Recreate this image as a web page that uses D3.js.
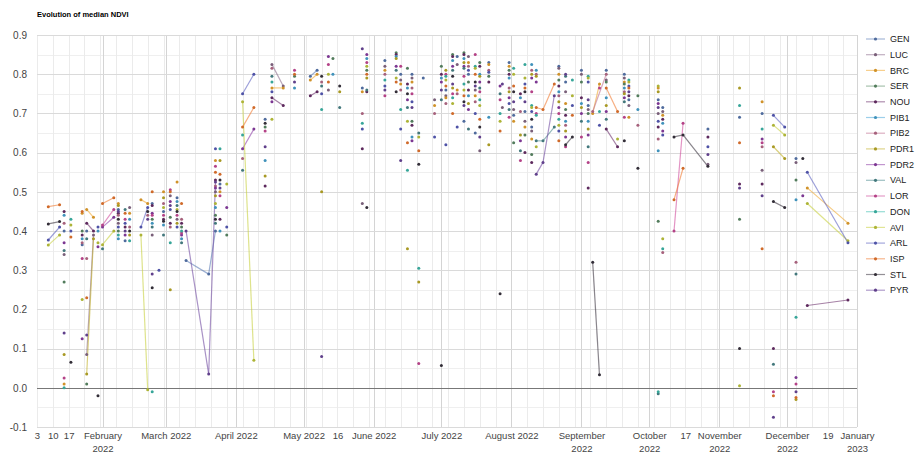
<!DOCTYPE html>
<html><head><meta charset="utf-8">
<script src="https://cdn.jsdelivr.net/npm/d3@7"></script>
<style>body{margin:0;background:#fff;font-family:Arial,"Liberation Sans",sans-serif}</style>
</head><body><svg id="c" width="918" height="455"></svg>
<script>
const seriesNames = ["GEN","LUC","BRC","SER","NOU","PIB1","PIB2","PDR1","PDR2","VAL","LOR","DON","AVI","ARL","ISP","STL","PYR"];
const seriesColors = ["#5b7bb5","#8c6d8c","#f0a830","#5f8f6a","#6b2f6b","#4aa8d8","#c0708f","#c2b02a","#8f3fa8","#4d8a8f","#d04c9c","#3fbfb0","#c8d040","#5a5fc0","#f07a30","#3a3440","#6f4aa0"];

// [date (2022), median NDVI, 1 = joined to previous reading]
const GEN = [["01-15",.40],["01-23",.365],["01-25",.40],["02-08",.455],["02-11",.375],["02-23",.47],["02-28",.45],["03-06",.485],["03-10",.325],["03-20",.29,1],["03-23",.40,1],["03-25",.52],["04-14",.685],["05-04",.795],["05-07",.81,1],["05-27",.765],["06-06",.835],["06-13",.80],["06-18",.80],["06-23",.79],["07-03",.76],["07-08",.845],["07-11",.68],["07-13",.80],["07-16",.65],["07-22",.83],["07-31",.83],["08-02",.695],["08-07",.705],["08-10",.665],["08-22",.82],["08-25",.78],["09-01",.81],["09-04",.72],["09-12",.81],["09-20",.80],["09-22",.735],["10-05",.735],["10-07",.715],["10-27",.66],["11-10",.69],["11-20",.70],["12-05",.585]];
const LUC = [["01-15",.34],["01-25",.085],["01-28",.39,1],["02-08",.42],["02-13",.46],["02-23",.39],["03-03",.49],["03-06",.43],["03-23",.50],["04-17",.825],["04-22",.77,1],["05-12",.76],["05-27",.47],["06-06",.82],["06-13",.785],["06-18",.79],["06-28",.735],["07-03",.745],["07-08",.825],["07-13",.845],["07-16",.76],["07-18",.605],["07-28",.715],["08-02",.71],["08-07",.68],["08-10",.655],["08-22",.815],["08-25",.755],["09-01",.80],["09-04",.71],["09-12",.785],["09-20",.79],["09-22",.72],["10-05",.70],["10-07",.705],["10-27",.57],["11-20",.555],["12-05",.575]];
const BRC = [["01-15",.01],["01-23",.445],["01-25",.455],["01-28",.435,1],["02-08",.47],["02-13",.445],["02-18",.48],["02-21",.47,1],["02-28",.50],["03-06",.525],["03-23",.58],["03-25",.50],["04-17",.765],["04-22",.765,1],["05-04",.785],["05-07",.80,1],["05-27",.755],["06-06",.81],["06-13",.775],["06-18",.78],["06-28",.72],["07-03",.74],["07-08",.76],["07-13",.83],["07-16",.745],["07-22",.825],["07-31",.82],["08-02",.68],["08-07",.665],["08-10",.635],["08-22",.80],["08-25",.725],["09-06",.70],["09-09",.775,1],["09-20",.78],["09-22",.69],["10-05",.765],["10-07",.695],["11-20",.73],["12-10",.51],["12-28",.42,1]];
const SER = [["01-15",.27],["01-23",.40],["01-25",.01],["02-08",.40],["02-23",.43],["03-03",.435],["03-08",.41],["03-23",.44],["03-28",.39],["04-14",.665],["04-27",.795],["05-14",.84],["05-29",.81],["06-11",.855],["06-16",.815],["06-18",.68],["07-01",.82],["07-06",.85],["07-11",.855],["07-13",.78],["07-18",.83],["07-22",.795],["07-31",.81],["08-02",.625],["08-07",.645],["08-10",.595],["08-22",.785],["08-25",.71],["09-01",.78],["09-04",.70],["09-12",.78],["09-20",.775],["09-26",.745],["10-05",.425],["11-10",.43],["12-05",.53]];
const NOU = [["01-15",.45],["01-23",.39],["01-25",.42],["01-28",.40,1],["02-08",.445],["02-11",.41],["02-23",.465],["02-28",.43],["03-03",.42],["03-08",.42],["03-23",.53],["03-25",.43],["04-14",.515],["04-17",.74],["04-22",.72,1],["05-04",.745],["05-07",.755,1],["05-27",.61],["05-29",.755],["06-11",.85],["06-16",.775],["06-18",.67],["07-01",.80],["07-06",.845],["07-11",.85],["07-13",.76],["07-18",.82],["07-22",.78],["07-31",.80],["08-05",.75],["08-07",.60],["08-10",.575],["08-22",.77],["08-25",.695],["09-01",.74],["09-04",.51],["09-12",.66],["09-17",.615,1],["09-22",.745],["10-05",.665],["10-07",.685],["10-27",.64],["11-10",.52],["11-20",.52],["11-25",.10],["12-10",.21],["12-28",.224,1]];
const PIB1 = [["01-15",.44],["01-23",.38],["01-30",.40],["02-08",.38],["02-13",.43],["02-23",.42],["02-28",.415],["03-06",.475],["03-08",.38],["03-23",.46],["03-25",.40],["04-14",.58],["04-27",.765],["05-14",.80],["05-29",.84],["06-11",.845],["06-16",.765],["06-18",.64],["07-01",.79],["07-06",.835],["07-11",.84],["07-13",.745],["07-18",.80],["07-22",.69],["07-31",.79],["08-05",.74],["08-10",.825],["08-12",.81],["08-22",.755],["08-25",.68],["09-01",.725],["09-04",.68],["09-12",.74],["09-20",.765],["09-26",.71],["10-05",.605],["10-07",.675],["12-05",.48]];
const PIB2 = [["01-15",.42],["01-23",.37],["01-25",.33],["02-08",.44],["02-13",.41],["02-21",.44],["02-28",.47],["03-03",.41],["03-08",.43],["03-23",.515],["04-04",.585],["04-17",.815],["05-09",.78],["05-27",.70],["06-06",.80],["06-13",.76],["06-18",.765],["06-28",.70],["07-03",.725],["07-08",.75],["07-13",.82],["07-16",.73],["07-22",.81],["07-31",.765],["08-05",.705],["08-10",.81],["08-12",.80],["08-22",.745],["08-25",.67],["09-06",.705],["09-12",.80,1],["09-20",.755],["09-26",.67],["10-05",.635],["10-07",.345],["11-20",.615],["12-05",.32]];
const PDR1 = [["01-15",.085],["01-25",.035],["01-28",.38,1],["02-08",.465],["02-13",.39],["02-28",.485],["03-03",.25],["03-06",.42],["03-23",.49],["03-25",.58],["04-14",.54],["05-09",.50],["05-17",.755],["05-29",.79],["06-11",.84],["06-16",.355],["06-21",.27],["07-03",.81],["07-06",.765],["07-11",.83],["07-13",.725],["07-18",.795],["07-22",.62],["07-31",.755],["08-05",.645],["08-10",.80],["08-12",.795],["08-22",.73],["08-25",.655],["09-01",.715],["09-04",.66],["09-12",.72],["09-20",.75],["10-05",.755],["11-10",.765],["11-25",.615],["11-30",.585,1],["12-05",-.03]];
const PDR2 = [["01-15",.37],["01-23",.125],["01-30",.36],["02-01",.41],["02-06",.435,1],["02-11",.39],["02-23",.445],["03-03",.475],["03-08",.39],["03-23",.51],["03-28",.46],["04-04",.61],["04-09",.66,1],["04-17",.73],["05-12",.845],["05-29",.85],["06-11",.82],["06-16",.735],["06-18",.63],["07-01",.78],["07-06",.82],["07-11",.82],["07-13",.71],["07-18",.78],["07-27",.77],["07-31",.74],["08-05",.63],["08-10",.79],["08-12",.78],["08-22",.715],["08-25",.64],["09-01",.70],["09-04",.645],["09-12",.705],["09-20",.74],["10-05",.725],["10-07",.655],["11-20",.635],["12-05",.026],["12-08",.49]];
const VAL = [["01-15",.35],["01-25",.38],["02-01",.355],["02-11",.455],["02-23",.41],["02-28",.39],["03-06",.465],["03-08",.37],["03-23",.42],["04-04",.555],["04-17",.795],["05-09",.77],["05-17",.715],["05-29",.76],["06-11",.81],["06-16",.715],["06-21",.65],["07-01",.735],["07-06",.81],["07-11",.815],["07-13",.66],["07-18",.765],["07-27",.75],["07-31",.71],["08-05",.605],["08-12",.63],["08-15",.63,1],["08-20",.665,1],["08-25",.795],["09-01",.68],["09-04",.615],["09-12",.685],["09-20",.73],["10-05",-.015],["11-25",.06],["12-05",.29]];
const LOR = [["01-15",.025],["01-23",.33],["02-01",.415],["02-06",.455,1],["02-11",.43],["02-23",.44],["02-28",.44],["03-03",.505],["03-06",.44],["03-08",.395],["03-23",.565],["03-25",.49],["04-14",.655],["04-27",.81],["05-12",.825],["05-29",.83],["06-06",.745],["06-13",.82],["06-18",.75],["06-21",.062],["07-03",.80],["07-06",.75],["07-11",.795],["07-16",.85],["07-18",.755],["07-27",.735],["07-31",.69],["08-05",.58],["08-10",.755],["08-12",.70],["08-22",.70],["08-25",.615],["09-01",.64],["09-04",.575],["09-09",.765],["09-20",.69],["10-12",.40],["10-16",.675,1],["11-20",.625],["11-25",-.01],["12-05",.01]];
const DON = [["01-15",0],["01-18",.43],["02-08",.39],["02-13",.375],["02-23",-.01],["03-03",.37],["03-08",.40],["03-25",.61],["04-04",.645],["04-17",.78],["05-09",.71],["05-27",.675],["06-06",.785],["06-13",.71],["06-16",.555],["06-21",.305],["07-03",.795],["07-06",.74],["07-11",.775],["07-16",.82],["07-18",.735],["07-27",.70],["08-02",.815],["08-07",.825],["08-10",.72],["08-12",.695],["08-22",.685],["08-28",.785],["09-04",.795],["09-09",.705],["09-22",.785],["10-05",-.01],["10-07",.355],["11-10",.72],["11-20",.66],["12-05",.18]];
const AVI = [["01-08",.364],["01-13",.39,1],["01-18",.415],["01-23",.225],["01-30",.37],["02-01",.365],["02-06",.40,1],["02-18",.39],["02-21",-.005,1],["02-28",.46],["03-06",.455],["03-23",.47],["03-28",.52],["04-04",.73],["04-09",.07,1],["04-17",.685],["05-12",.80],["05-29",.82],["06-11",.79],["06-16",.68],["06-21",.64],["07-03",.785],["07-06",.725],["07-11",.76],["07-16",.815],["07-18",.72],["07-27",.68],["08-02",.80],["08-07",.79],["08-10",.715],["08-12",.615],["08-22",.67],["08-28",.745],["09-04",.79],["09-17",.635],["09-22",.78],["10-05",.77],["10-07",.38],["11-10",.005],["11-25",.67],["11-30",.645,1],["12-10",.47],["12-28",.375,1]];
const ARL = [["01-08",.377],["01-13",.41,1],["01-18",.40],["01-30",.41],["02-08",.41],["02-11",.42],["02-18",.41],["02-21",.46,1],["02-26",.30],["03-03",.455],["03-06",.41],["03-23",.61],["03-28",.41],["04-04",.75],["04-09",.80,1],["04-17",.755],["05-09",.75],["05-27",.66],["06-06",.77],["06-13",.66],["06-18",.73],["06-28",.64],["07-03",.62],["07-08",.665],["07-13",.81],["07-16",.70],["07-22",.805],["07-31",.725],["08-07",.775],["08-10",.705],["08-22",.655],["08-28",.72],["09-04",.78],["09-09",.67],["09-22",.77],["10-05",.68],["10-07",.645],["10-27",.615],["11-25",.695],["11-30",.665,1],["12-10",.55],["12-28",.37,1]];
const ISP = [["01-08",.462],["01-13",.467,1],["01-18",.385],["01-23",.45],["01-25",.23],["02-01",.47],["02-06",.485,1],["02-11",.445],["02-23",.50],["03-03",.50],["03-08",.47],["03-23",.55],["03-25",.545],["04-04",.665],["04-09",.715,1],["04-27",.80],["05-12",.78],["05-29",.80],["06-11",.78],["06-16",.625],["06-21",.605],["07-03",.77],["07-06",.70],["07-11",.745],["07-16",.80],["07-18",.685],["07-27",.655],["08-02",.77],["08-07",.765],["08-12",.715],["08-15",.71,1],["08-20",.775,1],["08-22",.63],["08-28",.695],["09-12",.765],["09-17",.705,1],["09-22",.765],["10-12",.48],["10-16",.56,1],["11-10",.625],["11-20",.355],["11-25",-.02],["12-05",-.025]];
const STL = [["01-08",.418],["01-13",.424,1],["01-18",.065],["01-30",-.02],["02-08",.43],["02-13",.40],["02-21",.45],["02-23",.255],["02-28",.425],["03-06",.45],["03-23",.43],["03-25",.53],["04-14",.675],["05-09",.795],["05-17",.77],["05-29",.46],["06-11",.755],["06-16",.75],["06-21",.57],["07-01",.057],["07-06",.795],["07-11",.73],["07-16",.78],["07-18",.665],["07-27",.24],["08-02",.755],["08-07",.755],["08-10",.685],["08-25",.62],["08-28",.64,1],["09-06",.32],["09-09",.033,1],["09-20",.63],["09-26",.56],["10-12",.64],["10-16",.645,1],["10-27",.565,1],["11-10",.10],["11-25",.475],["11-30",.46,1],["12-08",.585]];
const PYR = [["01-15",.14],["01-25",.135],["02-08",.45],["02-11",.40],["02-21",.43],["02-23",.29],["03-03",.465],["03-10",.40],["03-20",.035,1],["03-23",.525,1],["03-25",.51],["04-14",.615],["04-27",.78],["05-09",.08],["05-27",.865],["06-06",.76],["06-13",.58],["06-18",.715],["07-01",.76],["07-06",.775],["07-11",.72],["07-16",.77],["07-18",.64],["07-28",.775],["08-02",.73],["08-07",.73],["08-12",.545],["08-15",.575,1],["08-20",.745,1],["08-25",.80],["09-04",.735],["09-22",.755],["10-05",.715],["10-27",.595],["11-10",.51],["11-20",.49],["11-25",-.075],["12-05",-.01]];

const yTicks = [-0.1,0,0.1,0.2,0.3,0.4,0.5,0.6,0.7,0.8,0.9];
const yTickLabels = ["-0.1","0.0","0.1","0.2","0.3","0.4","0.5","0.6","0.7","0.8","0.9"];
const xTickDates = ["2022-01-03","2022-01-10","2022-01-17","2022-02-01","2022-03-01","2022-04-01","2022-05-01","2022-05-16","2022-06-01","2022-07-01","2022-08-01","2022-09-01","2022-10-01","2022-10-17","2022-11-01","2022-12-01","2022-12-19","2023-01-01"];
const xTickLabels = ["3","10","17","February\n2022","March 2022","April 2022","May 2022","16","June 2022","July 2022","August 2022","September\n2022","October\n2022","17","November\n2022","December\n2022","19","January\n2023"];
const titleText = "Evolution of median NDVI";

const allSeries = [GEN,LUC,BRC,SER,NOU,PIB1,PIB2,PDR1,PDR2,VAL,LOR,DON,AVI,ARL,ISP,STL,PYR];
const parse = d3.timeParse("%Y-%m-%d");
const svg = d3.select("#c");
const L = 37, R = 857, T = 35, B = 427;
const x = d3.scaleTime().domain([parse("2022-01-03"), parse("2023-01-01")]).range([L, R]);
const y = d3.scaleLinear().domain([-0.1, 0.9]).range([B, T]);

// grid
const grid = svg.append("g");
const minorY = d3.range(-0.05, 0.9, 0.1);
grid.selectAll(".my").data(minorY).join("line")
  .attr("x1", L).attr("x2", R).attr("y1", d => Math.round(y(d)) + 0.5).attr("y2", d => Math.round(y(d)) + 0.5)
  .attr("stroke", "#efefef");
const weeks = d3.timeMonday.range(x.domain()[0], d3.timeDay.offset(x.domain()[1], 1));
grid.selectAll(".wk").data(weeks).join("line")
  .attr("x1", d => Math.round(x(d)) + 0.5).attr("x2", d => Math.round(x(d)) + 0.5).attr("y1", T).attr("y2", B)
  .attr("stroke", "#ebebeb");
const months = d3.timeMonth.range(parse("2022-02-01"), d3.timeDay.offset(x.domain()[1], 1));
grid.selectAll(".mo").data(months).join("line")
  .attr("x1", d => Math.round(x(d)) + 0.5).attr("x2", d => Math.round(x(d)) + 0.5).attr("y1", T).attr("y2", B)
  .attr("stroke", "#d4d4d4");
grid.selectAll(".gy").data(yTicks.filter(v => v !== 0)).join("line")
  .attr("x1", L).attr("x2", R).attr("y1", d => Math.round(y(d)) + 0.5).attr("y2", d => Math.round(y(d)) + 0.5)
  .attr("stroke", "#dadada");

// axes
const yAxis = svg.append("g").attr("transform", `translate(${L},0)`)
  .call(d3.axisLeft(y).tickValues(yTicks).tickSize(0).tickPadding(10).tickFormat((d, i) => yTickLabels[i]));
yAxis.select(".domain").remove();
yAxis.selectAll("text").attr("font-size", "10px").attr("fill", "#444").attr("font-family", "Arial, 'Liberation Sans', sans-serif");

const xAxis = svg.append("g").attr("transform", `translate(0,${B})`)
  .call(d3.axisBottom(x).tickValues(xTickDates.map(parse)).tickSize(0).tickFormat((d, i) => xTickLabels[i]));
xAxis.select(".domain").remove();
xAxis.selectAll("text").each(function(d, i) {
  const t = d3.select(this);
  const parts = xTickLabels[i].split("\n");
  t.text(null).attr("dy", null).attr("y", 12).attr("font-size", "9.5px").attr("fill", "#444")
   .attr("font-family", "Arial, 'Liberation Sans', sans-serif");
  parts.forEach((p, k) => t.append("tspan").attr("x", 0).attr("dy", k ? 13 : 0).text(p));
});

// zero baseline
svg.append("line").attr("x1", L).attr("x2", R).attr("y1", Math.round(y(0)) + 0.5).attr("y2", Math.round(y(0)) + 0.5)
  .attr("stroke", "#777");

// marks
const pts = allSeries.map(s => s.map(p => ({date: parse("2022-" + p[0]), v: p[1], j: !!p[2]})));
const line = d3.line().x(d => x(d.date)).y(d => y(d.v));
const lines = svg.append("g");
pts.forEach((s, si) => {
  s.forEach((p, k) => {
    if (p.j && k > 0) {
      lines.append("path").attr("d", line([s[k - 1], p])).attr("fill", "none")
        .attr("stroke", seriesColors[si]).attr("stroke-width", 1.2).attr("stroke-opacity", 0.6);
    }
  });
});
const dots = svg.append("g");
pts.forEach((s, si) => {
  dots.selectAll(null).data(s).join("circle")
    .attr("cx", d => x(d.date)).attr("cy", d => y(d.v)).attr("r", 1.5)
    .attr("fill", d3.color(seriesColors[si]).darker(0.4));
});

// title
svg.append("text").attr("x", L).attr("y", 16.5).attr("font-size", "7.5px").attr("font-weight", "bold")
  .attr("fill", "#000").attr("font-family", "Arial, 'Liberation Sans', sans-serif").text(titleText);

// legend
const leg = svg.append("g").selectAll("g").data(seriesNames).join("g")
  .attr("transform", (d, i) => `translate(0,${39 + i * 15.7})`);
leg.append("line").attr("x1", 866).attr("x2", 885).attr("y1", 0).attr("y2", 0)
  .attr("stroke", (d, i) => seriesColors[i]).attr("stroke-opacity", 0.55).attr("stroke-width", 1.2);
leg.append("circle").attr("cx", 875.5).attr("cy", 0).attr("r", 1.6).attr("fill", (d, i) => d3.color(seriesColors[i]).darker(0.4));
leg.append("text").attr("x", 890).attr("y", 0).attr("dy", "0.35em").attr("font-size", "9px").attr("fill", "#222")
  .attr("font-family", "Arial, 'Liberation Sans', sans-serif").text(d => d);
</script></body></html>
